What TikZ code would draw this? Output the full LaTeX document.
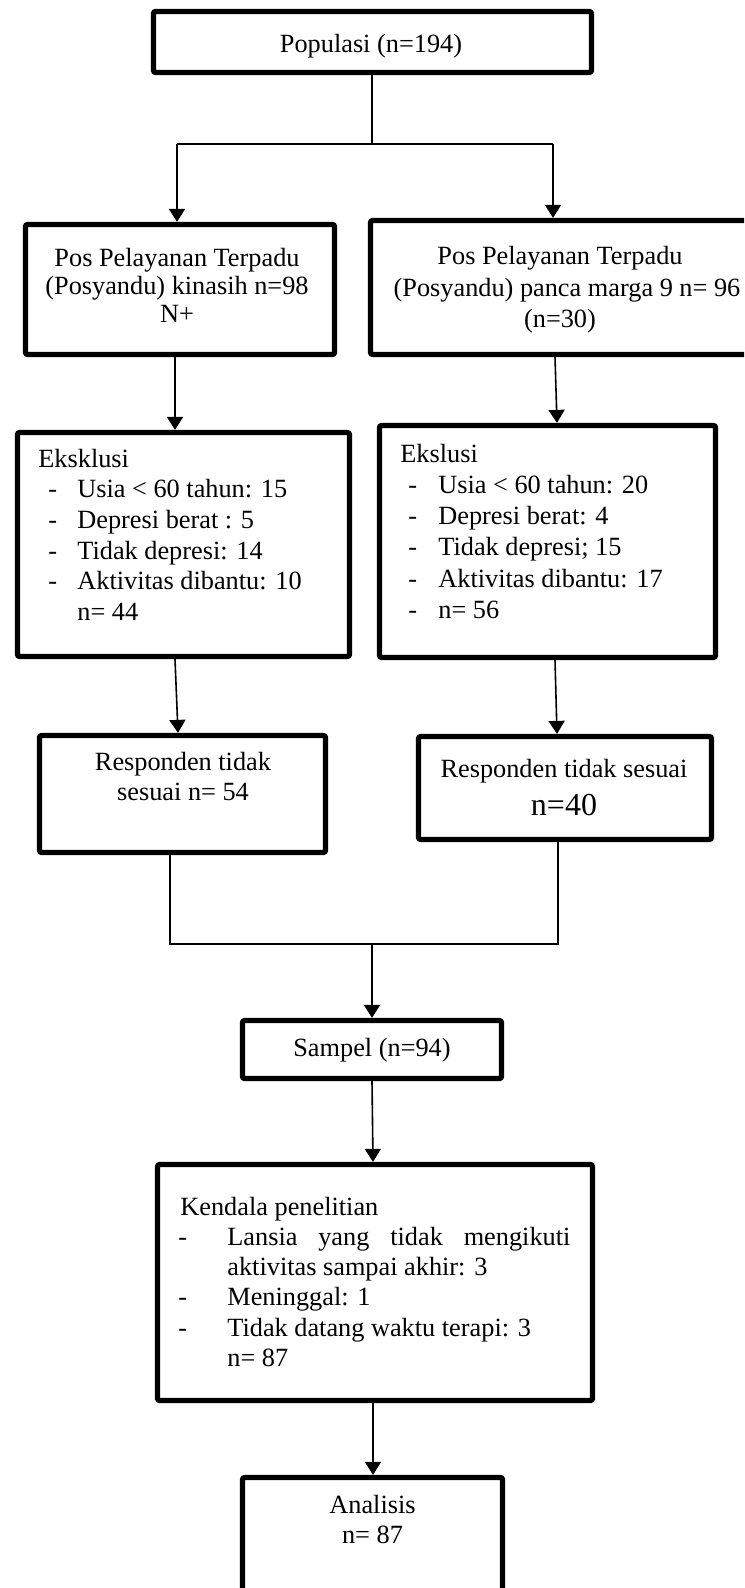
\documentclass[tikz,border=0pt]{standalone}
\usepackage{fontspec}
\setmainfont{Liberation Serif}
\usetikzlibrary{arrows.meta}
\newcommand{\dashitem}[2]{\hspace*{#1}\makebox[#2][l]{-}}
\begin{document}
\begin{tikzpicture}[x=0.5pt,y=-0.5pt,
  bx/.style={draw, line width=2.6pt, inner sep=0pt, rounded corners=1pt},
  ln/.style={line width=0.8pt},
  arr/.style={line width=0.8pt, -{Triangle[length=6.5pt,width=8pt]}},
  tx/.style={inner sep=0pt, font=\fontsize{13.15pt}{15.35pt}\selectfont}]
\useasboundingbox (0,0) rectangle (744,1588);
\clip (0,0) rectangle (744,1588);

% boxes
\node[bx, minimum width=219pt, minimum height=30.5pt] (pop) at (372.5,42) {};
\node[bx, minimum width=154.5pt, minimum height=65pt] (b2L) at (180,289.5) {};
\node[bx, minimum width=189.5pt, minimum height=67pt] (b2R) at (560,287.5) {};
\node[bx, minimum width=166pt, minimum height=112pt] (exL) at (183.5,544.5) {};
\node[bx, minimum width=168pt, minimum height=116pt] (exR) at (547.5,541.5) {};
\node[bx, minimum width=143pt, minimum height=58.5pt] (respL) at (182.5,794) {};
\node[bx, minimum width=146.5pt, minimum height=51.5pt] (respR) at (565,788) {};
\node[bx, minimum width=129.5pt, minimum height=29pt] (sam) at (372,1049.5) {};
\node[bx, minimum width=217.5pt, minimum height=118pt] (ken) at (375,1282.5) {};
\node[bx, minimum width=130pt, minimum height=80pt] (ana) at (372.5,1557.5) {};

% texts
\node[tx, anchor=base] (popT) at (371,53) {Populasi (n=194)};
\node[tx, anchor=base, font=\fontsize{13.15pt}{14pt}\selectfont] (b2LT) at (177,267)
  {\begin{tabular}[t]{@{}c@{}}Pos Pelayanan Terpadu\\(Posyandu) kinasih n=98\\N+\end{tabular}};
\node[tx, anchor=base, font=\fontsize{13.15pt}{15.75pt}\selectfont] (b2RT) at (560,265)
  {\begin{tabular}[t]{@{}c@{}}Pos Pelayanan Terpadu\\\hspace*{7pt}(Posyandu) panca marga 9 n= 96\\(n=30)\end{tabular}};
\node[tx, anchor=base west] (exLT) at (38,467)
  {\begin{tabular}[t]{@{}l@{}}Eksklusi\\
  \dashitem{5pt}{14.5pt}Usia < 60 tahun: 15\\
  \dashitem{5pt}{14.5pt}Depresi berat : 5\\
  \dashitem{5pt}{14.5pt}Tidak depresi: 14\\
  \dashitem{5pt}{14.5pt}Aktivitas dibantu: 10\\
  \hspace*{19.5pt}n= 44\end{tabular}};
\node[tx, anchor=base west, font=\fontsize{13.15pt}{15.65pt}\selectfont] (exRT) at (400,462)
  {\begin{tabular}[t]{@{}l@{}}Ekslusi\\
  \dashitem{4pt}{15pt}Usia < 60 tahun: 20\\
  \dashitem{4pt}{15pt}Depresi berat: 4\\
  \dashitem{4pt}{15pt}Tidak depresi; 15\\
  \dashitem{4pt}{15pt}Aktivitas dibantu: 17\\
  \dashitem{4pt}{15pt}n= 56\end{tabular}};
\node[tx, anchor=base, font=\fontsize{13.15pt}{15pt}\selectfont] (respLT) at (183,770)
  {\begin{tabular}[t]{@{}c@{}}Responden tidak\\sesuai n= 54\end{tabular}};
\node[tx, anchor=base] (respRT) at (564,777) {Responden tidak sesuai};
\node[tx, anchor=base, font=\fontsize{16pt}{19pt}\selectfont] (respRN) at (564,815) {n=40};
\node[tx, anchor=base] (samT) at (372,1056) {Sampel (n=94)};
\node[tx, anchor=base west, font=\fontsize{13.15pt}{15.15pt}\selectfont] (kenT) at (180,1215)
  {\begin{tabular}[t]{@{}l@{}}Kendala penelitian\\
  \dashitem{-1pt}{24.5pt}\makebox[171.5pt][l]{Lansia\hfill yang\hfill tidak\hfill mengikuti}\\
  \hspace*{23.5pt}aktivitas sampai akhir: 3\\
  \dashitem{-1pt}{24.5pt}Meninggal: 1\\
  \dashitem{-1pt}{24.5pt}Tidak datang waktu terapi: 3\\
  \hspace*{23.5pt}n= 87\end{tabular}};
\node[tx, anchor=base, font=\fontsize{13.15pt}{15pt}\selectfont] (anaT) at (372.5,1513)
  {\begin{tabular}[t]{@{}c@{}}Analisis\\n= 87\end{tabular}};

% junction coordinates
\coordinate (jTop) at (372,144);
\coordinate (jL) at (177,144);
\coordinate (jR) at (553,144);
\coordinate (jBL) at (170,944);
\coordinate (jBR) at (558,944);
\coordinate (jBot) at (372,944);
\coordinate (xL1) at (175,0);
\coordinate (xL2) at (178,0);
\coordinate (xR1) at (555,0);
\coordinate (xR2) at (557,0);
\coordinate (xC) at (373,0);

% connectors
\draw[ln] (pop.south -| jTop) -- (jTop);
\draw[ln] (jL) -- (jR);
\draw[arr] (jL) -- (b2L.north -| jL);
\draw[arr] (jR) -- (b2R.north -| jR);
\draw[arr] (b2L.south -| xL1) -- (exL.north -| xL1);
\draw[arr] (b2R.south -| xR1) -- (exR.north -| xR2);
\draw[arr] (exL.south -| xL1) -- (respL.north -| xL2);
\draw[arr] (exR.south -| xR1) -- (respR.north -| xR2);
\draw[ln] (respL.south -| jBL) -- (jBL) -- (jBR) -- (respR.south -| jBR);
\draw[arr] (jBot) -- (sam.north -| jBot);
\draw[arr] (sam.south -| jBot) -- (ken.north -| xC);
\draw[arr] (ken.south -| xC) -- (ana.north -| xC);
\end{tikzpicture}
\end{document}
